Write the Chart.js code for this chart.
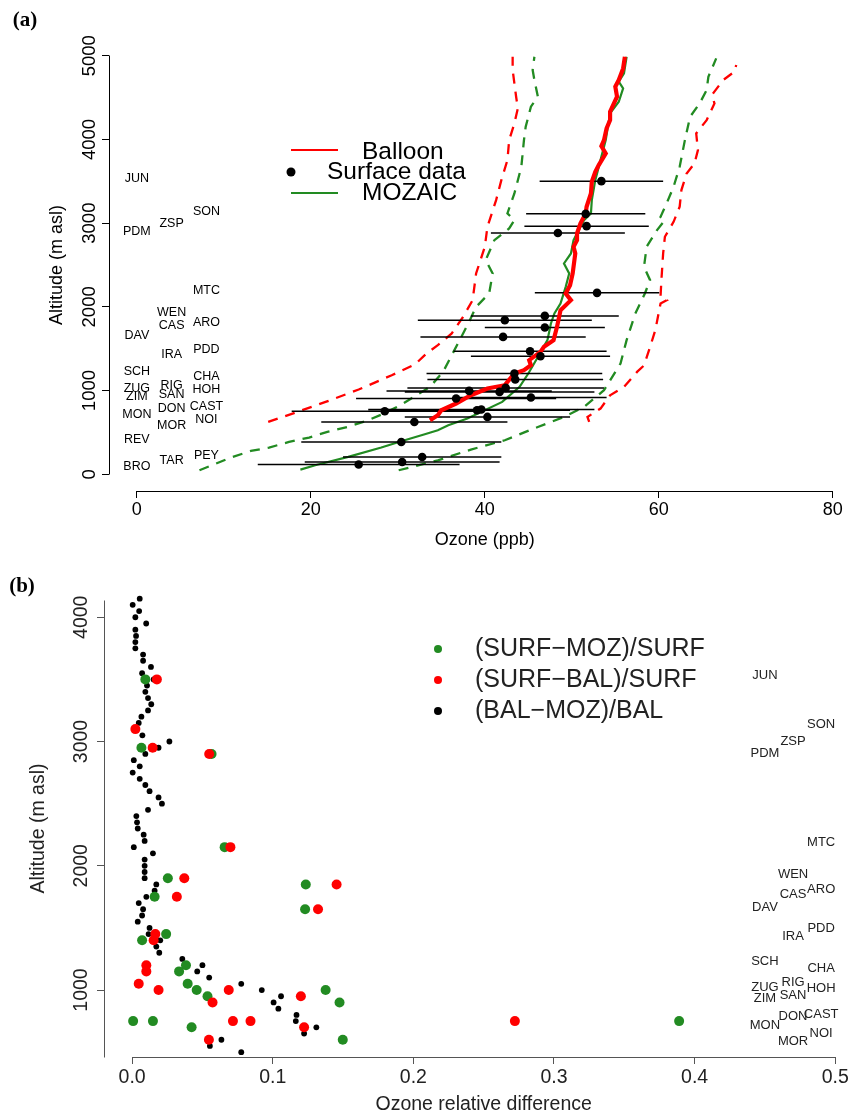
<!DOCTYPE html>
<html>
<head>
<meta charset="utf-8">
<script src="https://cdn.jsdelivr.net/npm/chart.js@4.4.1/dist/chart.umd.min.js"></script>
<style>
  body { margin: 0; background: #fff; }
  canvas { position: absolute; left: 0; }
  #chartA { top: 0; }
  #chartB { top: 560px; }
</style>
</head>
<body>
<canvas id="chartA" width="855" height="560"></canvas>
<canvas id="chartB" width="855" height="557"></canvas>
<script>
const FONT = '"Liberation Sans", Arial, Helvetica, sans-serif';
const RED = '#FF0000';
const GREEN = '#228B22';

// stations: code, altitude (m asl), label column
const STATIONS = ['JUN','PDM','DAV','SCH','ZUG','ZIM','MON','REV','BRO',
                  'ZSP','WEN','CAS','IRA','RIG','SAN','DON','MOR','TAR',
                  'SON','MTC','ARO','PDD','CHA','HOH','CAST','NOI','PEY'];
const STATION_ALT = [3535, 2905, 1661, 1231, 1024, 932, 714, 418, 87,
                     2997, 1928, 1773, 1431, 1064, 953, 785, 586, 167,
                     3135, 2191, 1809, 1494, 1171, 1012, 804, 654, 227];
const STATION_COL = [0,0,0,0,0,0,0,0,0, 1,1,1,1,1,1,1,1,1, 2,2,2,2,2,2,2,2,2];

// (a) balloon mean profile and +/- sd envelope
const BAL_ALT = [645,705,765,845,944,1024,1064,1204,1243,1303,1363,1462,1522,1602,1761,1960,2080,2160,2259,2399,
                 2638,2717,2797,2877,2997,3116,3196,3355,3494,3614,3694,3833,3921,3992,4132,4231,4331,4510,4630,4709,4849,4988];
const BAL_O3  = [33.7,34.6,35.0,36.7,38.4,40.3,42.3,43.4,44.5,45.3,45.1,46.4,46.8,47.9,48.3,48.7,49.9,49.3,49.8,50.1,
                 50.4,50.2,50.6,50.6,51.0,51.6,51.7,52.2,52.3,52.7,53.1,53.9,53.4,53.7,54.0,54.4,54.4,55.2,55.0,55.4,55.9,56.1];
const BAL_LO_ALT = [625,725,864,1012,1183,1315,1443,1542,1682,1880,2080,2399,2717,2956,3275,3514,3753,3992,4192,4371,4510,4670,4829,4988];
const BAL_LO_O3  = [15.1,17.9,21.7,25.5,29.3,32.0,33.3,34.6,36.2,37.5,38.6,39.0,40.0,40.3,41.3,41.9,42.6,42.8,43.4,43.8,43.6,43.4,43.2,43.2];
const BAL_HI_ALT = [625,685,785,944,1044,1223,1300,1522,1721,2040,2080,2120,2319,2638,2837,3016,3196,3395,3594,3713,3873,4072,4231,4431,4530,4710,4809,4889];
const BAL_HI_O3  = [52.0,51.8,53.3,54.4,56.0,57.5,58.3,59.0,59.6,60.2,60.9,60.2,60.3,60.5,60.7,61.7,62.4,62.6,63.2,64.1,64.5,64.3,65.5,66.4,66.1,67.4,68.7,68.9];

// (a) MOZAIC mean profile and +/- sd envelope
const MOZ_ALT = [56,108,207,319,394,478,526,586,666,864,1044,1204,1383,1602,1801,1921,2040,2239,2399,2518,2638,2797,
                 3036,3116,3275,3514,3753,3992,4311,4450,4610,4690,4789,4988];
const MOZ_O3  = [18.8,20.5,24.3,28.1,30.4,33.1,34.6,35.8,38.0,42.0,44.0,45.0,46.0,47.2,47.6,48.0,48.7,49.3,49.7,49.1,49.9,50.2,
                 51.4,52.2,52.3,52.7,53.3,53.9,54.4,55.4,55.9,55.4,56.0,56.3];
const MOZ_LO_ALT = [48,207,278,319,386,439,506,565,634,717,825,953,1044,1223,1402,1801,2000,2160,2399,2558,2797,2937,3036,3116,3355,3673,3992,4152,4391,4510,4710,4829,4988];
const MOZ_LO_O3  = [7.2,11.0,13.1,15.2,17.5,19.8,21.9,24.2,26.3,28.2,30.3,32.3,33.7,35.2,36.1,38.1,39.0,40.5,40.9,40.1,41.1,42.8,43.4,42.6,43.4,44.2,44.5,44.7,45.3,46.1,45.7,45.5,45.7];
const MOZ_HI_ALT = [48,167,295,406,565,685,804,1004,1323,1602,1921,2160,2319,2478,2717,2917,3036,3076,3236,3435,3673,3992,4271,4431,4590,4749,4968];
const MOZ_HI_O3  = [30.1,34.6,38.4,42.3,46.1,49.1,51.4,53.7,55.6,56.3,57.3,58.4,59.0,58.3,58.6,59.8,60.7,60.2,60.9,61.7,62.4,63.0,63.6,64.7,65.5,65.7,66.6];

// (a) surface stations: altitude, mean ozone, standard deviation
const SURF_ALT = [3502,3111,2964,2883,2167,1892,1841,1754,1641,1470,1410,1204,1132,1032,996,984,917,905,773,765,753,685,625,386,207,147,116];
const SURF_O3  = [53.4,51.6,51.7,48.4,52.9,46.9,42.3,46.9,42.1,45.2,46.4,43.4,43.5,42.4,38.2,41.7,45.3,36.7,39.6,39.1,28.5,40.3,31.9,30.4,32.8,30.5,25.5];
const SURF_SD  = [7.1,6.85,7.15,7.7,7.15,8.5,10.0,6.9,9.5,8.8,8.0,10.1,10.1,11.3,9.5,10.9,8.7,11.5,13.0,10.7,10.7,9.5,10.7,11.5,9.1,11.2,11.6];

const X_TICKS_A = [0, 20, 40, 60, 80];
const Y_TICKS_A = [0, 1000, 2000, 3000, 4000, 5000];

// (b) relative differences
const DIFF_ALT = [4150,4100,4050,4000,3950,3900,3850,3800,3750,3700,3650,3600,3550,3500,3450,3400,3350,3300,3250,3200,
                  3150,3100,3050,3000,2950,2900,2850,2800,2750,2700,2650,2600,2550,2500,2450,2400,2350,2300,2250,2200,
                  2150,2100,2050,2000,1950,1900,1850,1800,1750,1700,1650,1600,1550,1500,1450,1400,1350,1300,1250,1200,
                  1150,1100,1050,1000,950,900,850,800,750,700,650,600,550,500];
const BAL_MOZ_REL = [0.0054,0.0004,0.0050,0.0023,0.0100,0.0023,0.0028,0.0023,0.0023,0.0078,0.0078,0.0134,0.0071,0.0153,0.0106,0.0094,0.0113,0.0136,0.0113,0.0066,
                     0.0047,0.0035,0.0073,0.0265,0.0188,0.0094,0.0012,0.0054,0.0004,0.0054,0.0094,0.0124,0.0188,0.0212,0.0113,0.0030,0.0035,0.0040,0.0082,0.0089,
                     0.0012,0.0148,0.0089,0.0089,0.0089,0.0089,0.0172,0.0160,0.0101,0.0047,0.0078,0.0071,0.0040,0.0124,0.0117,0.0200,0.0172,0.0193,0.0357,0.0500,
                     0.0463,0.0548,0.0776,0.0922,0.1059,0.1006,0.1040,0.1169,0.1164,0.1310,0.1223,0.0635,0.0553,0.0776];
const SM_ALT = [3500,2950,2900,2150,1900,1850,1750,1650,1450,1400,1200,1150,1050,1000,1000,950,900,750,750,750,700,600];
const SURF_MOZ_REL = [0.0094,0.0066,0.0565,0.0658,0.0254,0.1235,0.0160,0.1230,0.0242,0.0071,0.0383,0.0334,0.0395,0.0459,0.1376,0.0536,0.1475,0.0007,0.0148,0.3890,0.0423,0.1498];
const SB_ALT = [3500,3100,2950,2900,2150,1900,1850,1750,1650,1450,1400,1200,1150,1050,1000,1000,950,900,750,750,750,700,600];
const SURF_BAL_REL = [0.0176,0.0023,0.0146,0.0548,0.0699,0.0371,0.1454,0.0318,0.1322,0.0165,0.0153,0.0101,0.0101,0.0047,0.0188,0.0687,0.1200,0.0572,0.0717,0.0842,0.2722,0.1223,0.0546];

const X_TICKS_B = [0, 0.1, 0.2, 0.3, 0.4, 0.5];
const Y_TICKS_B = [1000, 2000, 3000, 4000];

const pts = (xs, ys) => xs.map((v, i) => ({ x: v, y: ys[i] }));
const align = v => Math.round(v - 0.5) + 0.5;

// axis lines, rotated tick labels, titles, station codes and legend
const decor = {
  id: 'decor',
  afterDatasetsDraw(chart, args, o) {
    const { ctx, chartArea: a, scales: { x, y } } = chart;
    ctx.save();
    ctx.strokeStyle = o.axisColor;
    ctx.fillStyle = o.textColor;
    ctx.lineWidth = 1;

    const xt = x.ticks, yt = y.ticks;
    ctx.beginPath();
    ctx.moveTo(align(x.getPixelForValue(xt[0].value)), align(a.bottom));
    ctx.lineTo(align(x.getPixelForValue(xt[xt.length - 1].value)), align(a.bottom));
    const y0 = o.yFull ? a.bottom : y.getPixelForValue(yt[0].value);
    const y1 = o.yFull ? a.top : y.getPixelForValue(yt[yt.length - 1].value);
    ctx.moveTo(align(a.left), align(y0));
    ctx.lineTo(align(a.left), align(y1));
    ctx.stroke();

    ctx.textAlign = 'center';
    ctx.textBaseline = 'middle';
    ctx.font = o.tickFont;
    yt.forEach(t => {
      ctx.save();
      ctx.translate(o.yLabelX, y.getPixelForValue(t.value));
      ctx.rotate(-Math.PI / 2);
      ctx.fillText(String(t.value), 0, 0);
      ctx.restore();
    });

    ctx.font = o.titleFont;
    ctx.fillText(o.xTitle, x.getPixelForValue(o.xTitleAt), o.xTitleY);
    ctx.save();
    ctx.translate(o.yTitleX, (a.top + a.bottom) / 2);
    ctx.rotate(-Math.PI / 2);
    ctx.fillText(o.yTitle, 0, 0);
    ctx.restore();

    ctx.fillStyle = '#000';
    ctx.font = 'bold 21px "Liberation Serif", "DejaVu Serif", serif';
    ctx.fillText(o.tag, o.tagX, o.tagY);

    ctx.fillStyle = o.textColor;
    ctx.font = o.stationFont;
    STATIONS.forEach((s, i) => {
      const h = STATION_ALT[i];
      if (h < y.min || h > y.max) return;
      ctx.fillText(s, x.getPixelForValue(o.cols[STATION_COL[i]]), y.getPixelForValue(h));
    });

    ctx.font = o.legendFont;
    ctx.textAlign = 'left';
    o.legend.forEach(it => {
      if (it.kind === 'line') {
        ctx.strokeStyle = it.color;
        ctx.lineWidth = 2;
        ctx.beginPath();
        ctx.moveTo(it.x0, it.y);
        ctx.lineTo(it.x1, it.y);
        ctx.stroke();
      } else {
        ctx.fillStyle = it.color;
        ctx.beginPath();
        ctx.arc(it.x0, it.y, it.r, 0, Math.PI * 2);
        ctx.fill();
      }
      ctx.fillStyle = o.textColor;
      ctx.fillText(it.label, it.tx, it.ty);
    });
    ctx.restore();
  }
};

function lineSet(data, color, width, dash, order) {
  return { data, showLine: true, borderColor: color, borderWidth: width, borderDash: dash,
           pointRadius: 0, fill: false, tension: 0, order, borderCapStyle: 'butt' };
}

function fixedTicks(list) {
  return scale => { scale.ticks = list.map(v => ({ value: v })); };
}

function buildChartA() {
  const bars = [];
  SURF_ALT.forEach((h, i) => {
    bars.push({ x: SURF_O3[i] - SURF_SD[i], y: h }, { x: SURF_O3[i] + SURF_SD[i], y: h }, { x: null, y: null });
  });
  const dash = [10, 8];
  return new Chart(document.getElementById('chartA').getContext('2d'), {
    type: 'scatter',
    data: {
      datasets: [
        lineSet(pts(BAL_LO_O3, BAL_LO_ALT), RED, 2.3, dash, 9),
        lineSet(pts(BAL_HI_O3, BAL_HI_ALT), RED, 2.3, dash, 9),
        lineSet(pts(MOZ_LO_O3, MOZ_LO_ALT), GREEN, 2.3, dash, 8),
        lineSet(pts(MOZ_HI_O3, MOZ_HI_ALT), GREEN, 2.3, dash, 8),
        lineSet(pts(MOZ_O3, MOZ_ALT), GREEN, 2.2, [], 7),
        Object.assign(lineSet(bars, '#000', 1.5, [], 6), { spanGaps: false }),
        lineSet(pts(BAL_O3, BAL_ALT), RED, 4.2, [], 5),
        { data: pts(SURF_O3, SURF_ALT), pointRadius: 4.3, pointBackgroundColor: '#000', pointBorderWidth: 0, order: 1 }
      ]
    },
    options: {
      responsive: false,
      animation: false,
      devicePixelRatio: 1,
      layout: { padding: { left: 0, right: 0, top: 39, bottom: 0 } },
      scales: {
        x: {
          type: 'linear', min: -3.2, max: 82.06,
          afterBuildTicks: fixedTicks(X_TICKS_A),
          afterFit: s => { s.height = 69; },
          grid: { drawOnChartArea: false, tickLength: 7, tickColor: '#000' },
          border: { display: false },
          ticks: { color: '#000', font: { family: FONT, size: 18 }, padding: 1, maxRotation: 0, autoSkip: false }
        },
        y: {
          type: 'linear', min: -200, max: 5200,
          afterBuildTicks: fixedTicks(Y_TICKS_A),
          afterFit: s => { s.width = 109; },
          grid: { drawOnChartArea: false, tickLength: 7, tickColor: '#000' },
          border: { display: false },
          ticks: { display: false }
        }
      },
      plugins: {
        legend: { display: false },
        tooltip: { enabled: false },
        decor: {
          axisColor: '#000', textColor: '#000', yFull: false,
          tickFont: '18.5px ' + FONT, yLabelX: 90,
          titleFont: '18px ' + FONT,
          xTitle: 'Ozone (ppb)', xTitleAt: 40, xTitleY: 540,
          yTitle: 'Altitude (m asl)', yTitleX: 57,
          tag: '(a)', tagX: 25, tagY: 21,
          stationFont: '12.5px ' + FONT, cols: [0, 4, 8],
          legendFont: '24.5px ' + FONT,
          legend: [
            { kind: 'line', color: RED, x0: 291, x1: 338, y: 150, label: 'Balloon', tx: 362, ty: 152 },
            { kind: 'dot', color: '#000', x0: 291, y: 172, r: 4.5, label: 'Surface data', tx: 327, ty: 172 },
            { kind: 'line', color: GREEN, x0: 291, x1: 338, y: 193, label: 'MOZAIC', tx: 362, ty: 193 }
          ]
        }
      }
    },
    plugins: [decor]
  });
}

function buildChartB() {
  return new Chart(document.getElementById('chartB').getContext('2d'), {
    type: 'scatter',
    data: {
      datasets: [
        { data: pts(BAL_MOZ_REL, DIFF_ALT), pointRadius: 2.9, pointBackgroundColor: '#000', pointBorderWidth: 0, order: 3, clip: false },
        { data: pts(SURF_MOZ_REL, SM_ALT), pointRadius: 5, pointBackgroundColor: GREEN, pointBorderWidth: 0, order: 2, clip: false },
        { data: pts(SURF_BAL_REL, SB_ALT), pointRadius: 5, pointBackgroundColor: RED, pointBorderWidth: 0, order: 1, clip: false }
      ]
    },
    options: {
      responsive: false,
      animation: false,
      devicePixelRatio: 1,
      layout: { padding: { left: 0, right: 0, top: 40, bottom: 0 } },
      scales: {
        x: {
          type: 'linear', min: -0.02, max: 0.5105,
          afterBuildTicks: fixedTicks(X_TICKS_B),
          afterFit: s => { s.height = 60; },
          grid: { drawOnChartArea: false, tickLength: 7, tickColor: '#555' },
          border: { display: false },
          ticks: { color: '#222', font: { family: FONT, size: 19.5 }, padding: 2, maxRotation: 0, autoSkip: false,
                   callback: v => v.toFixed(1) }
        },
        y: {
          type: 'linear', min: 461, max: 4139,
          afterBuildTicks: fixedTicks(Y_TICKS_B),
          afterFit: s => { s.width = 104; },
          grid: { drawOnChartArea: false, tickLength: 7, tickColor: '#555' },
          border: { display: false },
          ticks: { display: false }
        }
      },
      plugins: {
        legend: { display: false },
        tooltip: { enabled: false },
        decor: {
          axisColor: '#555', textColor: '#222', yFull: true,
          tickFont: '19.5px ' + FONT, yLabelX: 82,
          titleFont: '19.5px ' + FONT,
          xTitle: 'Ozone relative difference', xTitleAt: 0.25, xTitleY: 545,
          yTitle: 'Altitude (m asl)', yTitleX: 39,
          tag: '(b)', tagX: 22, tagY: 27,
          stationFont: '13px ' + FONT, cols: [0.45, 0.47, 0.49],
          legendFont: '25px ' + FONT,
          legend: [
            { kind: 'dot', color: GREEN, x0: 438, y: 89, r: 4, label: '(SURF\u2212MOZ)/SURF', tx: 475, ty: 89 },
            { kind: 'dot', color: RED, x0: 438, y: 120, r: 4, label: '(SURF\u2212BAL)/SURF', tx: 475, ty: 120 },
            { kind: 'dot', color: '#000', x0: 438, y: 151, r: 4, label: '(BAL\u2212MOZ)/BAL', tx: 475, ty: 151 }
          ]
        }
      }
    },
    plugins: [decor]
  });
}

window.addEventListener('load', () => {
  buildChartA();
  buildChartB();
});
</script>
</body>
</html>
